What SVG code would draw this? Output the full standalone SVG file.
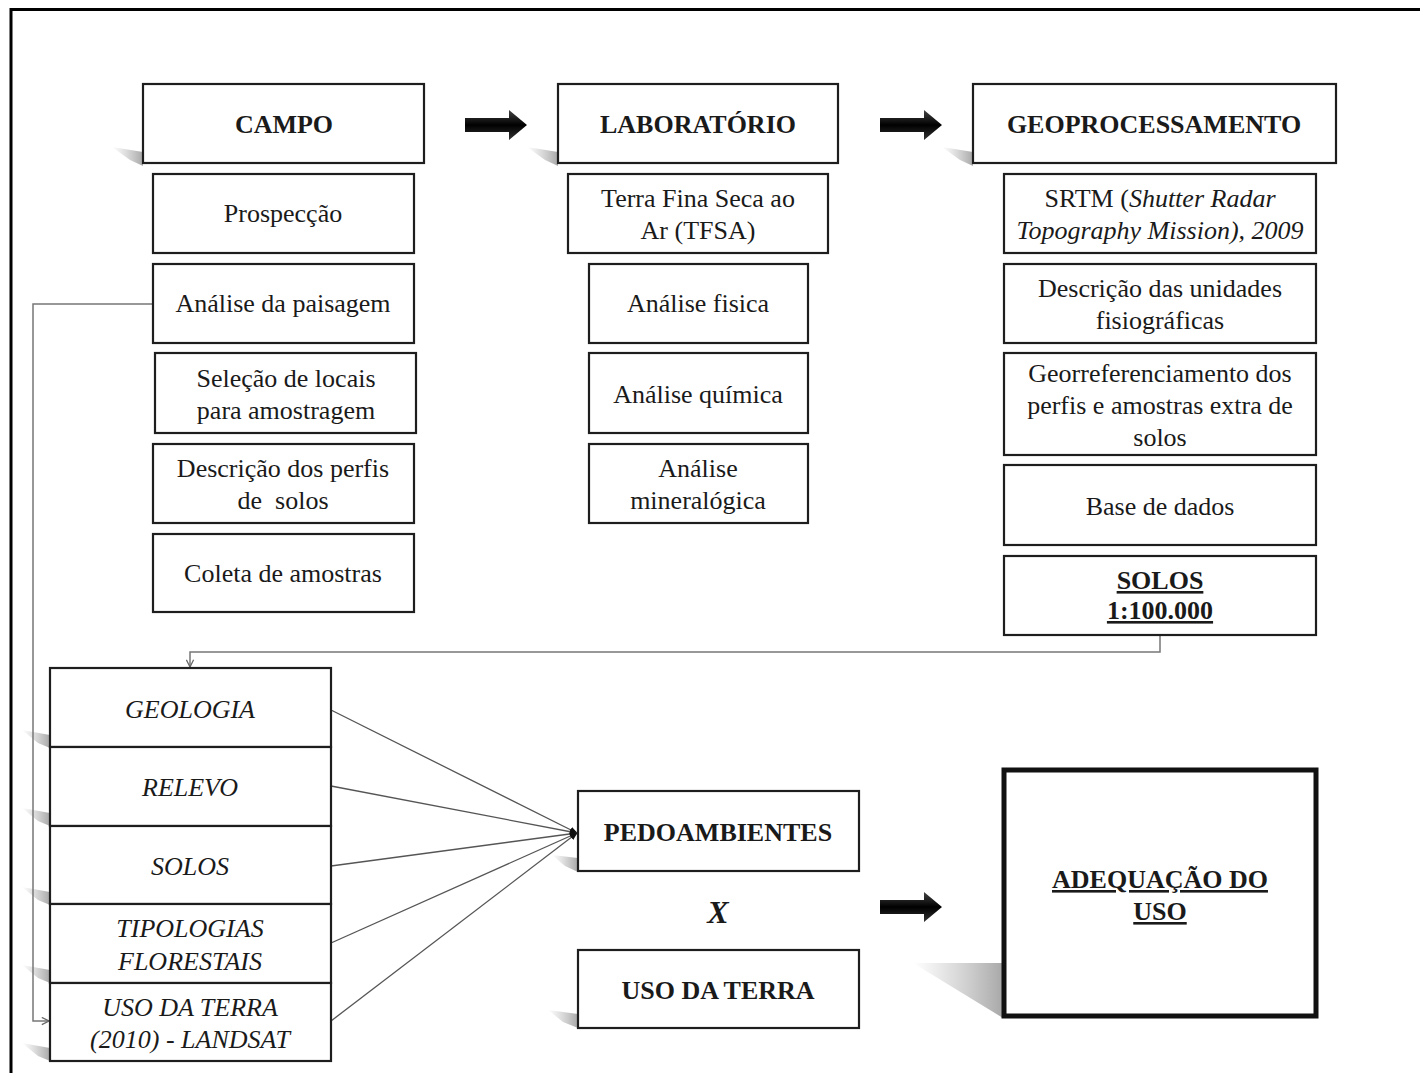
<svg xmlns="http://www.w3.org/2000/svg" width="1420" height="1073" viewBox="0 0 1420 1073">
<style>
  .box{fill:#fff;stroke:#1e1e1e;stroke-width:2.2}
  .thick{fill:#fff;stroke:#111;stroke-width:5}
  .t{font-family:"Liberation Serif","Times New Roman",serif;font-size:26px;fill:#1a1a1a;text-anchor:middle}
  .b{font-weight:bold}
  .i{font-style:italic}
  .u{text-decoration:underline}
  .conn{fill:none;stroke:#777;stroke-width:1.5}
  .fan{fill:none;stroke:#555;stroke-width:1.3}
</style>
<defs>
  <linearGradient id="sh" x1="0" y1="0" x2="1" y2="0">
    <stop offset="0" stop-color="#bbb" stop-opacity="0"/>
    <stop offset="1" stop-color="#a8a8a8" stop-opacity="1"/>
  </linearGradient>
  <linearGradient id="ar" x1="0" y1="0" x2="0" y2="1">
    <stop offset="0" stop-color="#444"/>
    <stop offset="0.5" stop-color="#000"/>
    <stop offset="1" stop-color="#333"/>
  </linearGradient>
  <marker id="open" viewBox="0 0 10 10" refX="9" refY="5" markerWidth="9" markerHeight="9" orient="auto" markerUnits="userSpaceOnUse">
    <path d="M1,1 L9,5 L1,9" fill="none" stroke="#666" stroke-width="1.4"/>
  </marker>
  <marker id="fanhead" viewBox="0 0 10 10" refX="9" refY="5" markerWidth="8" markerHeight="8" orient="auto" markerUnits="userSpaceOnUse">
    <path d="M0,1 L10,5 L0,9 Z" fill="#111"/>
  </marker>
  <path id="blk" d="M0,-7 L44,-7 L44,-15 L62,0 L44,15 L44,7 L0,7 Z"/>
</defs>

<rect width="1420" height="1073" fill="#fff"/>
<!-- frame -->
<path d="M11,1073 L11,9.5 L1420,9.5" fill="none" stroke="#000" stroke-width="3"/>

<!-- shadows -->
<g id="shadows">
  <polygon points="112,147 143,152 143,166 130,160" fill="url(#sh)"/>
  <polygon points="527,147 558,152 558,166 545,160" fill="url(#sh)"/>
  <polygon points="942,147 973,152 973,166 960,160" fill="url(#sh)"/>
  <polygon points="22,730 50,735 50,748 38,743" fill="url(#sh)"/>
  <polygon points="22,808 50,813 50,826 38,821" fill="url(#sh)"/>
  <polygon points="22,887 50,892 50,905 38,900" fill="url(#sh)"/>
  <polygon points="22,965 50,970 50,983 38,978" fill="url(#sh)"/>
  <polygon points="22,1043 50,1048 50,1061 38,1056" fill="url(#sh)"/>
  <polygon points="552,855 578,858 578,872 565,866" fill="url(#sh)"/>
  <polygon points="548,1010 578,1014 578,1028 563,1022" fill="url(#sh)"/>
  <polygon points="913,963 1003,963 1003,1018" fill="url(#sh)"/>
</g>

<!-- connectors -->
<g id="connectors">
  <use href="#blk" x="465" y="125" fill="url(#ar)"/>
  <use href="#blk" x="880" y="125" fill="url(#ar)"/>
  <use href="#blk" x="880" y="907" fill="url(#ar)"/>
  <path class="conn" d="M153,304 L33,304 L33,1021 L49,1021" marker-end="url(#open)"/>
  <path class="conn" d="M1160,635 L1160,652 L190,652 L190,667" marker-end="url(#open)"/>
  <path class="fan" d="M331,710 L577,833" marker-end="url(#fanhead)"/>
  <path class="fan" d="M331,786 L577,833" marker-end="url(#fanhead)"/>
  <path class="fan" d="M331,866 L577,833" marker-end="url(#fanhead)"/>
  <path class="fan" d="M331,943 L577,833" marker-end="url(#fanhead)"/>
  <path class="fan" d="M331,1021 L577,833" marker-end="url(#fanhead)"/>
</g>

<!-- headers -->
<g id="campo"><rect class="box" x="143" y="84" width="281" height="79"/><text class="t b" x="284" y="133">CAMPO</text></g>
<g id="laboratorio"><rect class="box" x="558" y="84" width="280" height="79"/><text class="t b" x="698" y="133">LABORATÓRIO</text></g>
<g id="geoprocessamento"><rect class="box" x="973" y="84" width="363" height="79"/><text class="t b" x="1154" y="133">GEOPROCESSAMENTO</text></g>

<!-- campo column -->
<g id="prospeccao"><rect class="box" x="153" y="174" width="261" height="79"/><text class="t" x="283" y="222">Prospecção</text></g>
<g id="analise-paisagem"><rect class="box" x="153" y="264" width="261" height="79"/><text class="t" x="283" y="312">Análise da paisagem</text></g>
<g id="selecao"><rect class="box" x="155" y="353" width="261" height="80"/><text class="t" x="286" y="387">Seleção de locais</text><text class="t" x="286" y="419">para amostragem</text></g>
<g id="descricao-perfis"><rect class="box" x="153" y="444" width="261" height="79"/><text class="t" x="283" y="477">Descrição dos perfis</text><text class="t" x="283" y="509" xml:space="preserve">de  solos</text></g>
<g id="coleta"><rect class="box" x="153" y="534" width="261" height="78"/><text class="t" x="283" y="582">Coleta de amostras</text></g>

<!-- lab column -->
<g id="tfsa"><rect class="box" x="568" y="174" width="260" height="79"/><text class="t" x="698" y="207">Terra Fina Seca ao</text><text class="t" x="698" y="239">Ar (TFSA)</text></g>
<g id="analise-fisica"><rect class="box" x="589" y="264" width="219" height="79"/><text class="t" x="698" y="312">Análise fisica</text></g>
<g id="analise-quimica"><rect class="box" x="589" y="353" width="219" height="80"/><text class="t" x="698" y="403">Análise química</text></g>
<g id="analise-mineralogica"><rect class="box" x="589" y="444" width="219" height="79"/><text class="t" x="698" y="477">Análise</text><text class="t" x="698" y="509">mineralógica</text></g>

<!-- geo column -->
<g id="srtm"><rect class="box" x="1004" y="174" width="312" height="79"/><text class="t" x="1160" y="207">SRTM (<tspan class="i">Shutter Radar</tspan></text><text class="t i" x="1160" y="239">Topography Mission), 2009</text></g>
<g id="unidades"><rect class="box" x="1004" y="264" width="312" height="79"/><text class="t" x="1160" y="297">Descrição das unidades</text><text class="t" x="1160" y="329">fisiográficas</text></g>
<g id="georref"><rect class="box" x="1004" y="353" width="312" height="102"/><text class="t" x="1160" y="382">Georreferenciamento dos</text><text class="t" x="1160" y="414">perfis e amostras extra de</text><text class="t" x="1160" y="446">solos</text></g>
<g id="base-dados"><rect class="box" x="1004" y="465" width="312" height="80"/><text class="t" x="1160" y="515">Base de dados</text></g>
<g id="solos-100"><rect class="box" x="1004" y="556" width="312" height="79"/><text class="t b u" x="1160" y="589">SOLOS</text><text class="t b u" x="1160" y="619">1:100.000</text></g>

<!-- bottom-left stack -->
<g id="geologia"><rect class="box" x="50" y="668" width="281" height="79" stroke-width="2.6"/><text class="t i" x="190" y="718">GEOLOGIA</text></g>
<g id="relevo"><rect class="box" x="50" y="747" width="281" height="79" stroke-width="2.6"/><text class="t i" x="190" y="796">RELEVO</text></g>
<g id="solos"><rect class="box" x="50" y="826" width="281" height="78" stroke-width="2.6"/><text class="t i" x="190" y="875">SOLOS</text></g>
<g id="tipologias"><rect class="box" x="50" y="904" width="281" height="79" stroke-width="2.6"/><text class="t i" x="190" y="937">TIPOLOGIAS</text><text class="t i" x="190" y="970">FLORESTAIS</text></g>
<g id="uso-terra-2010"><rect class="box" x="50" y="983" width="281" height="78" stroke-width="2.6"/><text class="t i" x="190" y="1016">USO DA TERRA</text><text class="t i" x="190" y="1048">(2010) - LANDSAT</text></g>

<!-- right bottom -->
<g id="pedoambientes"><rect class="box" x="578" y="791" width="281" height="80"/><text class="t b" x="718" y="841">PEDOAMBIENTES</text></g>
<g id="x-label"><text class="t b i" x="718" y="923" style="font-size:32px">X</text></g>
<g id="uso-terra"><rect class="box" x="578" y="950" width="281" height="78"/><text class="t b" x="718" y="999">USO DA TERRA</text></g>
<g id="adequacao"><rect class="thick" x="1004" y="770" width="312" height="246"/><text class="t b u" x="1160" y="888">ADEQUAÇÃO DO</text><text class="t b u" x="1160" y="920">USO</text></g>
</svg>
